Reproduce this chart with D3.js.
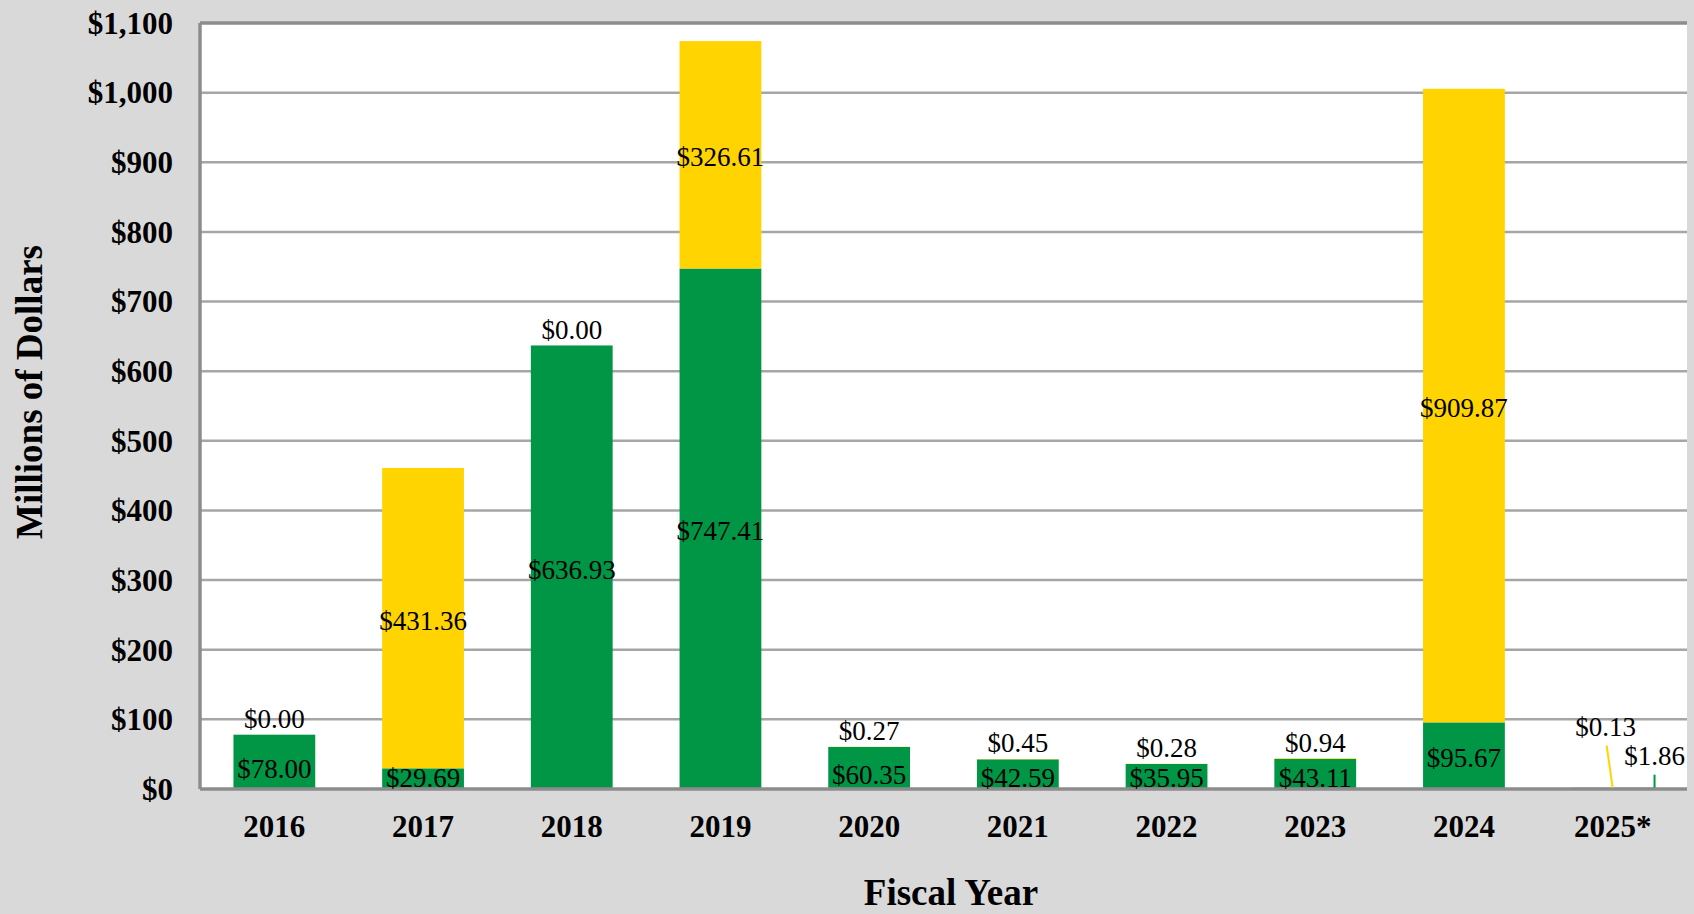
<!DOCTYPE html>
<html lang="en">
<head>
    <meta charset="UTF-8">
    <title>Millions of Dollars by Fiscal Year</title>
    <script src="https://d3js.org/d3.v7.min.js"></script>
    <style>
        body { margin: 0; background: #d9d9d9; font-family: "Liberation Serif", "Times New Roman", serif; }
        .grid line { stroke: #a6a6a6; stroke-width: 2.5px; }
        .tick-label { font-size: 31px; font-weight: bold; fill: #000; }
        .axis-title { font-size: 37px; font-weight: bold; fill: #000; }
        .value { font-size: 27px; fill: #000; }
    </style>
</head>
<body>
    <svg width="1694" height="914"></svg>
    <script>
        const years = ["2016", "2017", "2018", "2019", "2020", "2021", "2022", "2023", "2024", "2025*"];
        const greenValues = [78.00, 29.69, 636.93, 747.41, 60.35, 42.59, 35.95, 43.11, 95.67, 1.86];
        const yellowValues = [0.00, 431.36, 0.00, 326.61, 0.27, 0.45, 0.28, 0.94, 909.87, 0.13];
        const yTicks = [0, 100, 200, 300, 400, 500, 600, 700, 800, 900, 1000, 1100];

        const width = 1694, height = 914;
        const margin = { top: 23, right: 7, bottom: 125, left: 200 };
        const svg = d3.select("svg");

        const rows = years.map((y, i) => ({ year: y, green: greenValues[i], yellow: yellowValues[i] }));
        const series = d3.stack().keys(["green", "yellow"])(rows);

        const x = d3.scaleBand()
            .domain(years)
            .range([margin.left, width - margin.right])
            .paddingInner(0.45)
            .paddingOuter(0.225);

        const y = d3.scaleLinear()
            .domain([0, 1100])
            .range([height - margin.bottom, margin.top]);

        const colors = { green: "#009645", yellow: "#ffd400" };

        // plot area
        svg.append("rect")
            .attr("x", margin.left)
            .attr("y", margin.top)
            .attr("width", width - margin.right - margin.left)
            .attr("height", y(0) - margin.top)
            .attr("fill", "#fff");

        // gridlines
        svg.append("g")
            .attr("class", "grid")
            .selectAll("line")
            .data(yTicks.slice(1, -1))
            .join("line")
            .attr("x1", margin.left)
            .attr("x2", width - margin.right)
            .attr("y1", d => y(d))
            .attr("y2", d => y(d));

        // bars
        svg.append("g")
            .selectAll("g")
            .data(series)
            .join("g")
            .attr("fill", d => colors[d.key])
            .selectAll("rect")
            .data(d => d)
            .join("rect")
            .attr("x", d => x(d.data.year))
            .attr("width", x.bandwidth())
            .attr("y", d => y(d[1]))
            .attr("height", d => y(d[0]) - y(d[1]));

        // frame: left, top, bottom
        const frame = svg.append("g").attr("stroke", "#8c8c8c").attr("stroke-width", 3.5);
        frame.append("line").attr("x1", margin.left).attr("x2", margin.left)
            .attr("y1", margin.top).attr("y2", y(0));
        frame.append("line").attr("x1", margin.left).attr("x2", width - margin.right)
            .attr("y1", margin.top).attr("y2", margin.top);
        frame.append("line").attr("x1", margin.left).attr("x2", width - margin.right)
            .attr("y1", y(0)).attr("y2", y(0));

        // value labels
        const fmt = v => "$" + v.toFixed(2);
        const labels = svg.append("g").attr("class", "value").attr("text-anchor", "middle");
        const last = years[years.length - 1];

        series.forEach(s => {
            s.forEach(d => {
                const v = d.data[s.key];
                const cx = x(d.data.year) + x.bandwidth() / 2;
                const top = y(d[1]), bottom = y(d[0]);
                const h = bottom - top;
                let ly, lx = cx;
                if (d.data.year === last) {
                    // small 2025 values use leader lines
                    if (s.key === "green") {
                        lx = x(d.data.year) + x.bandwidth() + 1;
                        ly = top - 32;
                        labels.append("line").attr("x1", lx).attr("x2", lx)
                            .attr("y1", ly + 19).attr("y2", top)
                            .attr("stroke", colors.green).attr("stroke-width", 2);
                    } else {
                        lx = cx - 7;
                        ly = top - 61;
                        labels.append("line").attr("x1", lx + 1).attr("x2", cx)
                            .attr("y1", ly + 19).attr("y2", top)
                            .attr("stroke", colors.yellow).attr("stroke-width", 2);
                    }
                } else if (s.key === "yellow" && h < 30) {
                    ly = top - 16;
                } else if (h < 60) {
                    ly = Math.min((top + bottom) / 2 + 7, y(0) - 11);
                } else {
                    ly = (top + bottom) / 2 + 2;
                }
                labels.append("text")
                    .attr("x", lx)
                    .attr("y", ly)
                    .attr("dy", "0.35em")
                    .text(fmt(v));
            });
        });

        // y tick labels
        svg.append("g")
            .attr("class", "tick-label")
            .attr("text-anchor", "end")
            .selectAll("text")
            .data(yTicks)
            .join("text")
            .attr("x", margin.left - 27)
            .attr("y", d => y(d))
            .attr("dy", "0.35em")
            .text(d => "$" + d3.format(",")(d));

        // x tick labels
        svg.append("g")
            .attr("class", "tick-label")
            .attr("text-anchor", "middle")
            .selectAll("text")
            .data(years)
            .join("text")
            .attr("x", d => x(d) + x.bandwidth() / 2)
            .attr("y", y(0) + 48)
            .text(d => d);

        // axis titles
        svg.append("text")
            .attr("class", "axis-title")
            .attr("text-anchor", "middle")
            .attr("transform", "translate(42,392) rotate(-90)")
            .text("Millions of Dollars");

        svg.append("text")
            .attr("class", "axis-title")
            .attr("text-anchor", "middle")
            .attr("x", 951)
            .attr("y", 905)
            .text("Fiscal Year");
    </script>
</body>
</html>
